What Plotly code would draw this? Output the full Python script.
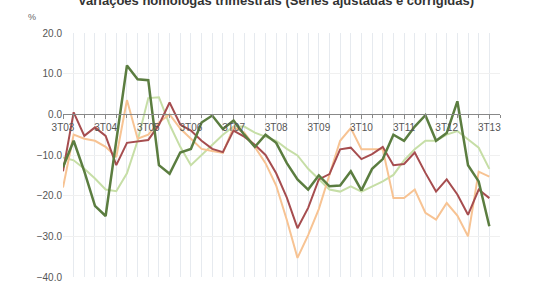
import plotly.graph_objects as go

quarters = []
for yr in range(3, 14):
    for q in (1, 2, 3, 4):
        quarters.append(f"{q}T{yr:02d}")
quarters = quarters[quarters.index("3T03"):quarters.index("3T13") + 1]

label_quarters = [q for q in quarters if q.startswith("3T")]

dark_green = [-13, -6.5, -14, -22.5, -25, -7, 12, 8.6, 8.4, -12.5, -14.6, -9.4, -8.5, -2, -0.3,
              -3.6, -1.5, -5, -8, -5, -7, -12, -16, -18.5, -15, -17.7, -17.5, -14, -18.7, -13.4,
              -11, -5, -6.5, -3, -0.2, -6.5, -4.6, 3.2, -12.5, -16.5, -27.5]
dark_red = [-14, 0.5, -5.3, -3.2, -5.3, -12.5, -7, -6.7, -6.3, -2.6, 2.9, -2.5, -4, -6.5, -8.5,
            -9.3, -4, -5.5, -7.5, -10, -14.5, -20.5, -28, -23, -16, -14.7, -8.6, -8.2, -11, -9.8,
            -8, -12.5, -12.2, -9.4, -14.4, -19, -16, -19.7, -24.7, -18.5, -20.6]
orange = [-18, -5, -6, -6.5, -8, -10.5, 3.5, -6, -5, -2, 0, -3.5, -6, -8.5, -9,
          -9.5, -3.2, -4.5, -8, -12, -17.5, -26, -35.3, -29.7, -23.3, -15, -6.5, -3.4, -8.6, -8.6,
          -8.6, -20.6, -20.6, -18.5, -24.2, -25.9, -21.8, -24.9, -30, -14.1, -15.3]
light_green = [-10.6, -11.3, -13.4, -15.8, -18.5, -18.9, -14.5, -6.5, 4.0, 4.2, -2.5, -8, -12.5, -10, -7.7,
               -5, -3, -3, -4.5, -5.5, -6.5, -8.5, -10.1, -13.4, -16, -18.5, -19, -17.7, -19, -17.7,
               -16.5, -14.9, -11.3, -8.6, -6.5, -6.5, -5, -4.1, -6.2, -8.2, -13.4]

y_ticks = [20, 10, 0, -10, -20, -30, -40]

pos = list(range(len(quarters)))
label_pos = [quarters.index(q) for q in label_quarters]

series = [
    ("Série 4", light_green, "#c6dea6", 2),
    ("Série 3", orange, "#f7c393", 2),
    ("Série 2", dark_red, "#a64d4f", 2),
    ("Série 1", dark_green, "#5b7d40", 2.5),
]

fig = go.Figure()
for name, vals, col, w in series:
    fig.add_trace(go.Scatter(x=pos, y=vals, mode="lines", name=name,
                             line=dict(color=col, width=w), hoverinfo="skip"))

fig.update_layout(
    width=560, height=293,
    margin=dict(l=63, r=60, t=33, b=10),
    plot_bgcolor="white", paper_bgcolor="white",
    showlegend=False,
    font=dict(family="Liberation Sans, Arial", color="#555555"),
    title=dict(text="<b>Variações homólogas trimestrais (Séries ajustadas e corrigidas)</b>",
               x=0.493, xanchor="center", y=1.0, yanchor="middle", yref="container",
               font=dict(size=13, color="#333333")),
)

fig.update_xaxes(
    range=[0, len(quarters)], tickmode="array", tickvals=label_pos, ticktext=label_quarters,
    showgrid=True, gridcolor="#e6eaef", gridwidth=1,
    minor=dict(dtick=1, tick0=0, showgrid=True, gridcolor="#e6eaef", ticks="outside",
               ticklen=3, tickcolor="#888888"),
    ticks="outside", ticklen=4, tickcolor="#888888",
    showline=True, linecolor="#888888", linewidth=1,
    anchor="free", position=(0 - y_ticks[-1]) / (y_ticks[0] - y_ticks[-1]),
    tickfont=dict(size=10, color="#555555"), zeroline=False,
)
fig.update_yaxes(
    range=[y_ticks[-1], y_ticks[0]], tickvals=y_ticks, tickformat=".1f",
    showgrid=True, gridcolor="#f0f0f0", gridwidth=1, zeroline=False,
    tickfont=dict(size=10, color="#555555"), ticks="", showline=False,
)

fig.add_annotation(text="%", xref="paper", yref="paper", x=-0.058, y=1.0, yshift=16,
                   xanchor="right", yanchor="middle", showarrow=False,
                   font=dict(size=9, color="#666666"))

fig.write_html("out.html")
